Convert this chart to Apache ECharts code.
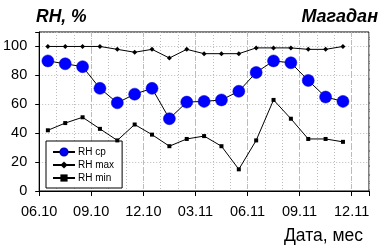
<!DOCTYPE html>
<html><head><meta charset="utf-8">
<script src="https://cdn.jsdelivr.net/npm/echarts@6/dist/echarts.min.js"></script>
<style>html,body{margin:0;padding:0;background:#fff}#c{width:389px;height:248px}</style>
</head><body><div id="c"></div>
<script>
const months = ['06.10','07.10','08.10','09.10','10.10','11.10','12.10','01.11','02.11','03.11','04.11','05.11','06.11','07.11','08.11','09.11','10.11','11.11'];
const tickLabels = ['06.10','09.10','12.10','03.11','06.11','09.11','12.11'];
const rhAvg = [90,88,86,71,61,67,71,50,61.5,62,63,69,82,90,88.7,76.5,65,62];
const rhMax = [100,100,100,100,98,96,98,92,98,95,95,95,99,99,99,98,98,100];
const rhMin = [42,47,51,43,35,46,39,31,36,38,31,15,35,63,50,36,36,34];

const pts = arr => arr.map((v,i)=>[i+0.5, v]);
const font = 'Arial, "Liberation Sans", sans-serif';
const chart = echarts.init(document.getElementById('c'), null, {renderer:'canvas'});
chart.setOption({
  animation:false,
  backgroundColor:'#fff',
  title:[
    {text:'RH, %', left:31, top:3, textStyle:{fontFamily:font, fontSize:17.5, fontWeight:'bold', fontStyle:'italic', color:'#000'}},
    {text:'Магадан', right:6, top:3, textStyle:{fontFamily:font, fontSize:18, fontWeight:'bold', fontStyle:'italic', color:'#000'}},
    {text:'Дата, мес', right:21, top:222, textStyle:{fontFamily:font, fontSize:17.5, fontWeight:'normal', color:'#000'}}
  ],
  grid:{left:39, right:20, top:32, bottom:57, show:true, borderColor:'#000', borderWidth:1},
  legend:{
    orient:'vertical', left:46, top:141, width:76, height:49,
    backgroundColor:'#fff', borderColor:'#000', borderWidth:1,
    padding:[6,8,5,6], itemGap:3, itemWidth:22, itemHeight:9,
    textStyle:{fontFamily:font, fontSize:10, color:'#000', padding:[0,0,0,-2]},
    data:['RH ср','RH max','RH min']
  },
  xAxis:[
    {type:'value', min:0, max:19, interval:3,
     axisLine:{show:true, lineStyle:{color:'#000'}},
     axisTick:{show:true, inside:false, length:5, lineStyle:{color:'#000'}},
     axisLabel:{fontFamily:font, fontSize:14.5, color:'#000', margin:13,
       formatter:v=> (v%3===0 && tickLabels[v/3]) ? tickLabels[v/3] : ''},
     splitLine:{show:true, lineStyle:{color:'#bdbdbd', type:[5,3], width:1}}},
    {type:'value', min:0, max:19, interval:1, position:'bottom',
     axisLine:{show:false}, axisTick:{show:false}, axisLabel:{show:false},
     splitLine:{show:true, lineStyle:{color:'#bcbcbc', type:[1,2], width:1}}}
  ],
  yAxis:{type:'value', min:0, max:110, interval:20,
    axisLine:{show:true, lineStyle:{color:'#000'}},
    axisTick:{show:true, length:4, lineStyle:{color:'#000'}},
    axisLabel:{fontFamily:font, fontSize:14.5, color:'#000', margin:12,
      formatter:v=> v>100 ? '' : String(v)},
    splitLine:{show:true, lineStyle:{color:'#bcbcbc', type:[1,2], width:1}}
  },
  series:[
    {name:'RH ср', type:'line', data:pts(rhAvg), symbol:'circle', symbolSize:12,
     itemStyle:{color:'#0000ff', borderColor:'#0000cc', borderWidth:0.5}, lineStyle:{color:'#000', width:1}, z:5},
    {name:'RH max', type:'line', data:pts(rhMax), symbol:'diamond', symbolSize:5,
     itemStyle:{color:'#000'}, lineStyle:{color:'#000', width:1}, z:4},
    {name:'RH min', type:'line', data:pts(rhMin), symbol:'rect', symbolSize:4,
     itemStyle:{color:'#000'}, lineStyle:{color:'#000', width:1}, z:4}
  ]
});
</script></body></html>
